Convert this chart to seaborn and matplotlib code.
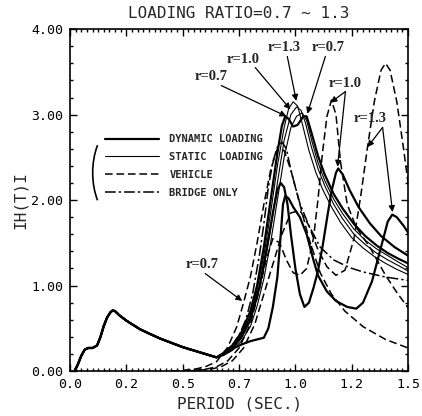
import numpy as np
import pandas as pd
import matplotlib
matplotlib.use('Agg')
import matplotlib.pyplot as plt
from matplotlib.patches import Arc
from matplotlib.ticker import MultipleLocator, FixedLocator, FixedFormatter
import seaborn as sns

sns.set_theme(style='ticks')
plt.rcParams['font.family'] = ['DejaVu Sans Mono', 'DejaVu Sans']

# common low-period part shared by bridge / loading curves
base_t = [0.02, 0.035, 0.05, 0.065, 0.08, 0.10, 0.12, 0.135, 0.15, 0.165, 0.18, 0.19,
          0.20, 0.22, 0.25, 0.28, 0.31, 0.35, 0.40, 0.45, 0.50, 0.55, 0.60, 0.65]
base_h = [0.00, 0.08, 0.18, 0.25, 0.27, 0.27, 0.30, 0.40, 0.53, 0.63, 0.69, 0.71,
          0.70, 0.65, 0.59, 0.54, 0.49, 0.44, 0.38, 0.33, 0.28, 0.24, 0.20, 0.16]

# dynamic loading (thick solid)
dyn07_t = [0.68, 0.72, 0.76, 0.80, 0.83, 0.86, 0.89, 0.92, 0.94, 0.955, 0.97, 0.99, 1.01, 1.035,
           1.05, 1.07, 1.10, 1.13, 1.17, 1.21, 1.26, 1.31, 1.36, 1.41, 1.46, 1.50]
dyn07_h = [0.21, 0.30, 0.45, 0.70, 1.00, 1.45, 2.00, 2.55, 2.87, 2.98, 2.95, 2.86, 2.88, 2.98,
           2.98, 2.80, 2.52, 2.30, 2.07, 1.90, 1.72, 1.58, 1.47, 1.38, 1.31, 1.26]
dyn10_t = [0.68, 0.72, 0.76, 0.80, 0.84, 0.87, 0.90, 0.92, 0.935, 0.95, 0.965, 0.98, 1.00, 1.02,
           1.04, 1.06, 1.08, 1.10, 1.12, 1.14, 1.16, 1.18, 1.19, 1.21, 1.24, 1.28, 1.33, 1.38,
           1.44, 1.50]
dyn10_h = [0.20, 0.27, 0.40, 0.62, 0.98, 1.40, 1.85, 2.12, 2.20, 2.15, 1.95, 1.60, 1.20, 0.90,
           0.75, 0.80, 0.97, 1.17, 1.45, 1.78, 2.10, 2.32, 2.37, 2.30, 2.12, 1.92, 1.73, 1.58,
           1.45, 1.35]
dyn13_t = [0.68, 0.72, 0.76, 0.80, 0.83, 0.86, 0.88, 0.90, 0.92, 0.935, 0.945, 0.955, 0.97, 0.99,
           1.02, 1.05, 1.08, 1.10, 1.14, 1.18, 1.23, 1.27, 1.30, 1.34, 1.38, 1.41, 1.43, 1.45,
           1.48, 1.50]
dyn13_h = [0.20, 0.26, 0.31, 0.35, 0.37, 0.39, 0.50, 0.75, 1.10, 1.60, 1.95, 2.05, 2.02, 1.92,
           1.80, 1.60, 1.30, 1.12, 0.93, 0.82, 0.75, 0.73, 0.80, 1.05, 1.45, 1.75, 1.83, 1.80,
           1.70, 1.62]

# static loading (thin solid)
sta1_t = [0.68, 0.72, 0.76, 0.80, 0.83, 0.86, 0.89, 0.92, 0.95, 0.97, 0.99, 1.01, 1.03, 1.06,
          1.09, 1.12, 1.16, 1.20, 1.25, 1.30, 1.35, 1.40, 1.45, 1.50]
sta1_h = [0.20, 0.28, 0.42, 0.65, 0.95, 1.35, 1.85, 2.40, 2.85, 3.07, 3.15, 3.10, 2.90, 2.58,
          2.33, 2.13, 1.92, 1.74, 1.56, 1.44, 1.34, 1.26, 1.19, 1.13]
sta2_t = [0.68, 0.72, 0.76, 0.80, 0.83, 0.86, 0.89, 0.92, 0.95, 0.98, 1.005, 1.025, 1.045, 1.07,
          1.10, 1.13, 1.17, 1.21, 1.26, 1.31, 1.36, 1.41, 1.46, 1.50]
sta2_h = [0.19, 0.26, 0.38, 0.58, 0.85, 1.20, 1.65, 2.20, 2.70, 3.00, 3.09, 3.05, 2.90, 2.63,
          2.37, 2.17, 1.95, 1.78, 1.60, 1.48, 1.38, 1.30, 1.23, 1.17]
sta3_t = [0.68, 0.72, 0.76, 0.80, 0.83, 0.86, 0.89, 0.92, 0.95, 0.98, 1.005, 1.03, 1.05, 1.075,
          1.10, 1.13, 1.17, 1.21, 1.26, 1.31, 1.36, 1.41, 1.46, 1.50]
sta3_h = [0.18, 0.24, 0.35, 0.52, 0.76, 1.08, 1.50, 2.00, 2.50, 2.85, 2.98, 3.02, 2.93, 2.67,
          2.44, 2.23, 2.01, 1.84, 1.66, 1.53, 1.43, 1.35, 1.27, 1.21]

# vehicle (dashed)
veh07_t = [0.45, 0.50, 0.55, 0.60, 0.65, 0.70, 0.74, 0.77, 0.80, 0.83, 0.86, 0.89, 0.92, 0.95,
           0.98, 1.02, 1.06, 1.11, 1.16, 1.22, 1.30, 1.40, 1.50]
veh07_h = [0.00, 0.01, 0.02, 0.05, 0.11, 0.28, 0.52, 0.80, 1.10, 1.50, 1.95, 2.35, 2.60, 2.58,
           2.35, 1.95, 1.55, 1.15, 0.90, 0.70, 0.52, 0.37, 0.27]
veh10_t = [0.50, 0.55, 0.60, 0.65, 0.70, 0.75, 0.80, 0.84, 0.87, 0.90, 0.93, 0.96, 0.99, 1.02,
           1.05, 1.08, 1.10, 1.12, 1.14, 1.16, 1.18, 1.20, 1.23, 1.27, 1.33, 1.40, 1.45, 1.50]
veh10_h = [0.00, 0.01, 0.02, 0.05, 0.12, 0.27, 0.55, 0.95, 1.30, 1.55, 1.50, 1.30, 1.15, 1.12,
           1.20, 1.55, 2.00, 2.55, 2.98, 3.17, 3.00, 2.45, 1.95, 1.68, 1.45, 1.12, 0.92, 0.74]
veh13_t = [0.52, 0.57, 0.62, 0.67, 0.72, 0.77, 0.82, 0.86, 0.90, 0.94, 0.98, 1.02, 1.06, 1.10,
           1.14, 1.18, 1.22, 1.26, 1.29, 1.32, 1.35, 1.38, 1.40, 1.42, 1.45, 1.48, 1.50]
veh13_h = [0.00, 0.01, 0.02, 0.05, 0.12, 0.27, 0.55, 0.90, 1.25, 1.60, 1.85, 1.88, 1.70, 1.42,
           1.22, 1.12, 1.18, 1.55, 2.05, 2.62, 3.15, 3.52, 3.60, 3.52, 3.15, 2.60, 2.20]

# bridge only (dash-dot)
bri_t = [0.68, 0.72, 0.75, 0.78, 0.81, 0.84, 0.86, 0.88, 0.90, 0.92, 0.94, 0.96, 0.98, 1.00,
         1.02, 1.06, 1.11, 1.17, 1.24, 1.30, 1.40, 1.50]
bri_h = [0.20, 0.30, 0.42, 0.60, 0.90, 1.35, 1.72, 2.15, 2.45, 2.62, 2.68, 2.60, 2.35, 2.15,
         1.96, 1.70, 1.45, 1.30, 1.21, 1.16, 1.10, 1.06]

x_ticks = [0.0, 0.25, 0.5, 0.75, 1.0, 1.25, 1.5]
x_labels = ['0.0', '0.2', '0.5', '0.7', '1.0', '1.2', '1.5']
y_ticks = [0, 1, 2, 3, 4]
y_labels = ['0.00', '1.00', '2.00', '3.00', '4.00']

# annotation: label, text position, [(tail, head), ...]
notes = [
    ('r=0.7', (0.627, 3.45), [((0.671, 3.34), (0.960, 2.98))]),
    ('r=1.0', (0.769, 3.65), [((0.822, 3.55), (0.978, 3.06))]),
    ('r=1.3', (0.951, 3.79), [((0.964, 3.68), (1.004, 3.16))]),
    ('r=0.7', (1.147, 3.78), [((1.133, 3.68), (1.053, 3.01))]),
    ('r=1.0', (1.222, 3.36), [((1.222, 3.27), (1.156, 3.14)), ((1.222, 3.27), (1.187, 2.39))]),
    ('r=1.3', (1.333, 2.96), [((1.387, 2.85), (1.320, 2.62)), ((1.387, 2.85), (1.431, 1.86))]),
    ('r=0.7', (0.587, 1.25), [((0.600, 1.14), (0.764, 0.82))]),
]

fig = plt.figure(figsize=(4.22, 4.16), dpi=100)
ax = fig.add_axes([0.166, 0.108, 0.801, 0.822])

dash = (0, (5, 2.5))
dashdot = (0, (7, 2, 1.5, 2))

def draw(t, h, lw, ls, with_base=True):
    if with_base:
        t = base_t + t
        h = base_h + h
    df = pd.DataFrame({'t': t, 'h': h})
    sns.lineplot(data=df, x='t', y='h', ax=ax, color='black', linewidth=lw,
                 linestyle=ls, sort=False, estimator=None, legend=False)
    return ax.lines[-1]

h_dyn = draw(dyn07_t, dyn07_h, 1.6, '-')
draw(dyn10_t, dyn10_h, 1.6, '-')
draw(dyn13_t, dyn13_h, 1.6, '-')
h_sta = draw(sta1_t, sta1_h, 0.8, '-')
draw(sta2_t, sta2_h, 0.8, '-')
draw(sta3_t, sta3_h, 0.8, '-')
h_veh = draw(veh07_t, veh07_h, 1.1, dash, with_base=False)
draw(veh10_t, veh10_h, 1.1, dash, with_base=False)
draw(veh13_t, veh13_h, 1.1, dash, with_base=False)
h_bri = draw(bri_t, bri_h, 1.1, dashdot)

for label, pos, arrows in notes:
    ax.text(pos[0], pos[1], label, ha='center', va='center', fontsize=10.5,
            fontweight='bold', family='Liberation Serif')
    for tail, head in arrows:
        ax.annotate('', xy=head, xytext=tail,
                    arrowprops=dict(arrowstyle='-|>', color='black', lw=0.9,
                                    mutation_scale=9, shrinkA=0, shrinkB=0))

leg = ax.legend([h_dyn, h_sta, h_veh, h_bri],
                ['DYNAMIC LOADING', 'STATIC  LOADING', 'VEHICLE', 'BRIDGE ONLY'],
                loc='upper left', bbox_to_anchor=(0.075, 0.72), frameon=False,
                handlelength=5.2, handletextpad=1.0, labelspacing=0.75,
                prop={'family': 'DejaVu Sans Mono', 'weight': 'bold', 'size': 7.5})
ax.add_patch(Arc((0.14, 0.58), 0.146, 0.27, theta1=126, theta2=234,
                 transform=ax.transAxes, color='black', lw=1.2))

ax.set_xlim(0, 1.5)
ax.set_ylim(0, 4)
ax.xaxis.set_major_locator(FixedLocator(x_ticks))
ax.xaxis.set_major_formatter(FixedFormatter(x_labels))
ax.yaxis.set_major_locator(FixedLocator(y_ticks))
ax.yaxis.set_major_formatter(FixedFormatter(y_labels))
ax.xaxis.set_minor_locator(MultipleLocator(0.025))
ax.yaxis.set_minor_locator(MultipleLocator(0.2))
ax.tick_params(which='both', direction='in', top=True, right=True, colors='black',
               labelsize=9.5, width=1.0)
ax.tick_params(which='major', length=5, pad=5)
ax.tick_params(which='minor', length=2.5)
for s in ax.spines.values():
    s.set_linewidth(1.2)
    s.set_color('black')

ax.set_xlabel('PERIOD (SEC.)', fontsize=11.5, labelpad=4)
ax.set_ylabel('IH(T)I', fontsize=11.5, labelpad=2)
ax.set_title('LOADING RATIO=0.7 ~ 1.3', fontsize=11.5, pad=8)

fig.savefig('out.png', dpi=100)
